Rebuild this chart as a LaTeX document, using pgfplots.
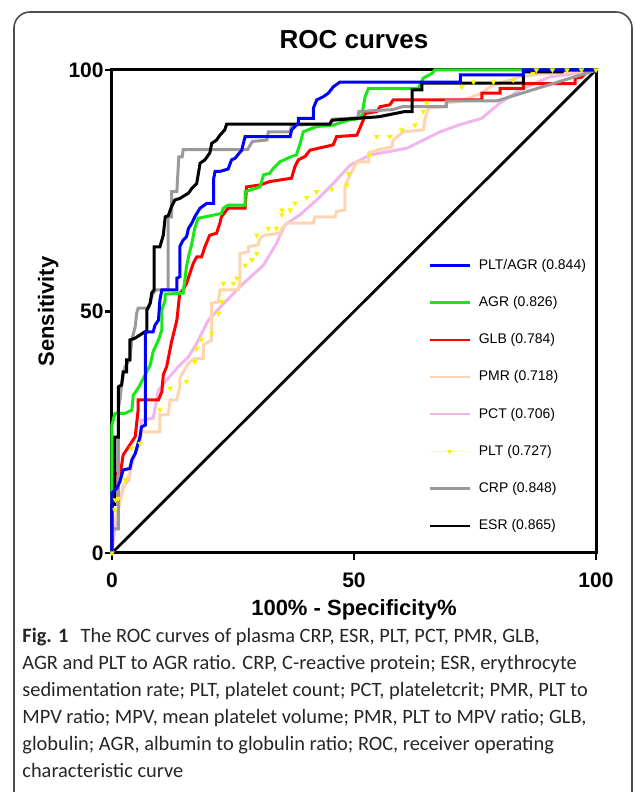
\documentclass[border=0pt]{standalone}
\usepackage{fontspec}
\setmainfont{Liberation Sans}
\newfontfamily\capfont{Carlito}
\usepackage{pgfplots}
\pgfplotsset{compat=1.18}
\definecolor{cgreen}{HTML}{18E818}
\definecolor{cpeach}{HTML}{FDD5B1}
\definecolor{cpink}{HTML}{F3B6EC}
\definecolor{cyell}{HTML}{FFFFA8}
\definecolor{cymark}{HTML}{F5F500}
\definecolor{cgray}{HTML}{9A9A9A}
% pixel position of the reference -> picture coordinates (axis origin at 0,0)
\newcommand{\PX}[2]{({(#1-112)*0.5pt},{(553-#2)*0.5pt})}
\begin{document}
\begin{tikzpicture}
\useasboundingbox \PX{0}{0} rectangle \PX{634}{792};
\begin{axis}[
  scale only axis, width=242pt, height=241.5pt,
  xmin=0, xmax=100, ymin=0, ymax=100,
  xtick={0,50,100}, ytick={0,50,100},
  tick align=outside, xtick pos=bottom, ytick pos=left,
  major tick length=3.5pt,
  axis line style={line width=1.5pt},
  every tick/.style={black, line width=1.2pt},
  tick label style={font=\bfseries\fontsize{10.5}{12}\selectfont},
  xticklabel style={yshift=-3pt},
  yticklabel style={inner sep=0.5pt},
  /pgf/number format/assume math mode=true,
  title={ROC curves},
  title style={font=\bfseries\fontsize{13}{15}\selectfont, at={(axis description cs:0.5,1.039)}, anchor=center},
  xlabel={100\% - Specificity\%},
  xlabel style={font=\bfseries\fontsize{11}{13}\selectfont, at={(axis description cs:0.5,-0.118)}, anchor=center},
  ylabel={Sensitivity},
  ylabel style={font=\bfseries\fontsize{11}{13}\selectfont, at={(axis description cs:-0.132,0.5)}, anchor=center},
  clip=false,
  legend cell align=left,
  legend image code/.code={\draw[mark repeat=2,mark phase=2,#1] plot coordinates {(0pt,0pt)(10pt,0pt)(20pt,0pt)};},
  legend style={at={(axis cs:65.3,61.4)}, anchor=north west, draw=none, fill=none,
    font=\fontsize{7}{8}\selectfont, row sep=10pt, inner sep=0pt,
    nodes={inner sep=1pt, text height=5.2pt, text depth=1.4pt},
    /tikz/every odd column/.append style={column sep=3pt}},
]
\addlegendimage{blue, line width=1.2pt}
\addlegendentry{PLT/AGR (0.844)}
\addlegendimage{cgreen, line width=1.2pt}
\addlegendentry{AGR (0.826)}
\addlegendimage{red, line width=1.2pt}
\addlegendentry{GLB (0.784)}
\addlegendimage{cpeach, line width=1.2pt}
\addlegendentry{PMR (0.718)}
\addlegendimage{cpink, line width=1.2pt}
\addlegendentry{PCT (0.706)}
\addlegendimage{cyell, line width=0.8pt, mark=triangle*, mark size=0.8pt, mark options={fill=cymark, draw=cymark, rotate=180}}
\addlegendentry{PLT (0.727)}
\addlegendimage{cgray, line width=1.2pt}
\addlegendentry{CRP (0.848)}
\addlegendimage{black, line width=1.2pt}
\addlegendentry{ESR (0.865)}

% reference line
\addplot[black, line width=1.4pt, forget plot] coordinates {(0,0)(100,100)};

% PLT
\addplot[cyell, line width=0.7pt, densely dotted, forget plot, mark=triangle*, mark size=0.9pt,
  mark options={solid, fill=cymark, draw=cymark, rotate=180}] coordinates {
(0,0)(0.6,8.9)(0.7,11.0)(1.3,11.3)(2.7,15.1)(3.0,15.1)(4.1,21.7)(5.8,22.7)(9.9,29.6)(12.0,34.1)
(15.4,35.5)(17.1,39.6)(17.5,42.4)(18.5,44.2)(20.6,45.5)(22.0,49.6)(22.7,52.0)(23.0,55.8)(25.1,55.8)
(25.8,56.9)(27.5,59.6)(28.9,60.7)(29.9,62.0)(29.9,65.8)(32.3,67.2)(34.0,67.2)(35.1,70.0)(35.1,71.0)
(36.8,71.0)(37.8,72.4)(40.2,73.6)(42.3,74.8)(45.4,75.3)(48.5,76.2)(48.8,78.6)(53.3,82.4)(54.7,86.2)
(57.4,86.2)(59.9,87.6)(62.6,88.6)(64.3,91.4)(65.0,93.2)(72.3,96.5)(74.7,97.5)(78.8,97.5)(82.9,97.9)
(87.0,99.3)(87.7,100)(91,100)(94,100)(97,100)(100,100)};

% PCT
\addplot[cpink, line width=1.5pt, forget plot] coordinates {
(0,0)(0.3,3)(0.6,5.1)(1.3,8.9)(2.3,13.7)(3.4,15.1)(4.4,19.3)(5.8,24.1)(6.1,27.5)(8.5,27.9)(9.6,33.7)
(11.3,35.8)(13.7,38.6)(15.8,40.6)(17.5,43.4)(19.9,48.2)(22.3,50.8)(26.4,55.1)(31.3,59.6)(34.0,64.1)
(35.7,67.9)(38.8,70.0)(42.3,73.1)(45.7,76.5)(49.2,80.3)(53.3,82.4)(60.9,83.8)(67.8,87.2)(71.6,88.6)
(76.4,90.0)(80.2,93.2)(84.3,95.9)(90.5,98.6)(93.9,99.0)(100,100)};

% PMR
\addplot[cpeach, line width=1.5pt, forget plot] coordinates {
(0,0)(0,5)(1,8)(2.7,14.6)(3.7,16.6)(4.5,20)(5.8,22.7)(6.1,25.1)(9.9,25.1)(9.9,28.6)(11.6,28.6)
(12.0,31.7)(13.4,31.7)(14.0,34.4)(14.0,36.2)(15.8,39.3)(17.1,40.3)(18.9,40.3)(18.9,43.1)(20.6,44.1)
(20.6,51.7)(22.0,52.0)(22.3,54.5)(26.1,54.5)(26.4,55.8)(26.4,62.0)(28.2,62.4)(28.2,63.4)(30.2,63.8)
(30.6,65.2)(31.6,65.8)(34.7,66.2)(35.1,67.2)(36.1,68.3)(41.6,68.3)(41.9,69.6)(46.1,69.6)(46.4,70.7)
(48.1,71.0)(48.1,75.8)(49.2,78.3)(50.6,81.0)(53.0,81.0)(53.0,82.8)(54.7,83.4)(57.8,84.1)(58.1,85.5)
(60.2,87.2)(64.3,87.6)(64.7,90.0)(65.4,92.1)(68.8,92.4)(69.1,93.2)(71.9,93.5)(76.4,95.2)(78.1,96.5)
(80.9,97.5)(84.3,98.6)(90,99.3)(95,99.6)(100,100)};

% GLB
\addplot[red, line width=1.5pt, forget plot] coordinates {
(0,0)(0,12)(0.6,13.7)(0.6,16.5)(1.65,16.5)(2.0,18.2)(2.3,20.3)(3.7,22.4)(4.8,24.1)(5.1,26.9)(5.4,29.6)
(5.4,31.7)(9.6,31.7)(10.3,33.4)(10.6,36.9)(11.3,38.6)(12.3,43.7)(13.4,48.2)(14.0,53.8)(14.7,54.5)
(15.4,55.8)(16.1,57.9)(16.8,60.0)(17.5,61.3)(18.5,61.3)(19.2,63.4)(20.2,65.8)(21.6,66.2)(22.3,68.3)
(22.6,69.6)(24.0,71.4)(27.5,71.4)(27.8,75.8)(30.6,76.2)(32.6,76.9)(37.1,77.6)(37.8,80.0)(38.5,81.4)
(39.9,82.1)(40.9,83.4)(45.7,84.5)(46.4,86.2)(50.6,86.5)(51.9,89.6)(52.3,91.0)(54.7,91.4)(55.4,92.4)
(57.4,92.8)(58.1,93.8)(76.4,93.8)(76.4,95.2)(80.2,95.2)(80.2,96.2)(85.0,96.2)(85.0,97.2)(95.7,97.2)
(95.7,98.3)(97.0,98.5)(98.1,99.6)(100,100)};

% AGR
\addplot[cgreen, line width=1.5pt, forget plot] coordinates {
(0,0)(0,13)(0,26.5)(0.6,28.9)(2.7,28.9)(4.1,29.6)(4.4,32.7)(5.4,34.1)(7.9,38.9)(8.5,41.7)(9.6,44.1)
(10.3,46.2)(10.3,50.3)(11.0,52.4)(11.0,53.6)(14.7,53.8)(15.4,59.3)(15.8,61.3)(16.5,64.1)(17.1,67.2)
(17.8,69.3)(22.6,70.3)(23.0,71.4)(24.0,72.0)(27.5,72.0)(27.5,74.8)(30.6,75.8)(31.3,78.3)(32.6,78.6)
(33.3,79.6)(34.7,81.0)(37.1,82.1)(38.1,82.4)(38.8,84.5)(39.5,87.2)(42.3,88.3)(45.7,88.6)(48.8,89.6)
(51.5,90.0)(52.3,94.5)(53.0,96.2)(63.3,96.2)(64.3,98.3)(66.1,99.3)(66.7,100)(100,100)};

% CRP
\addplot[cgray, line width=1.5pt, forget plot] coordinates {
(0,0)(0,5)(1.3,5)(1.3,30)(1.65,31.7)(2.0,35.1)(2.7,38.6)(3.7,40.0)(4.1,44.1)(4.8,46.9)(5.1,49.6)
(5.4,50.7)(7.5,50.7)(8.5,53.8)(9.2,54.5)(11.6,54.5)(11.6,69.6)(12.3,69.6)(12.3,74.8)(13.4,74.8)
(13.8,82.0)(14.5,82.0)(14.7,83.5)(28.0,83.5)(29.0,85.2)(32.0,85.5)(32.3,87.2)(36.8,87.2)(37.1,88.6)
(45.0,88.8)(45.5,89.8)(50.8,90.1)(51.0,91.4)(58,91.8)(60,92.4)(69.1,92.4)(69.1,93.6)(79.5,93.6)
(99.2,99.7)(100,100)};

% ESR
\addplot[black, line width=1.5pt, forget plot] coordinates {
(0,0)(0,10)(0.6,10)(0.6,24)(1.3,24)(1.3,34.4)(2.0,34.8)(2.3,37.5)(3.0,37.5)(3.0,40.0)(3.7,40.0)
(3.7,44.1)(4.8,44.5)(6.8,45.8)(7.2,45.8)(7.2,50.3)(7.9,51.7)(8.2,53.8)(8.7,54.5)(8.7,63.4)(9.9,63.4)
(10.6,65.8)(11.0,69.6)(11.6,69.8)(12.3,71.7)(13.0,73.1)(14.0,73.4)(15.8,74.5)(16.5,75.5)(17.5,76.5)
(18.2,80.7)(19.2,81.4)(20.2,82.8)(20.6,84.8)(21.6,85.5)(22.3,86.5)(23.3,87.6)(23.7,88.8)(45.0,88.8)
(45.5,89.6)(52,90.1)(55,90.3)(60.5,91.4)(62,91.4)(62,95.9)(64,95.9)(64,97.3)(85,97.3)(85,99.6)
(93,99.6)(93,100)(100,100)};

% PLT/AGR
\addplot[blue, line width=1.5pt, forget plot] coordinates {
(0,0)(0,12.4)(1.0,13.4)(1.65,14.8)(2.3,17.2)(3.7,17.5)(4.1,19.3)(4.8,20.6)(5.4,22.7)(5.8,24.1)
(6.1,26.1)(6.9,26.5)(6.9,45.8)(8.5,45.8)(8.9,47.2)(9.6,48.2)(9.9,52.4)(10.3,54.5)(13.4,54.5)
(13.4,56.9)(14.0,57.2)(14.0,63.4)(14.7,64.8)(15.4,65.5)(15.8,67.2)(16.5,68.3)(17.1,69.6)(18.2,71.4)
(19.6,72.4)(21.0,72.4)(21.0,77.5)(21.3,79.0)(22.3,79.0)(24.0,79.5)(24.7,81.4)(25.4,81.7)(26.8,83.4)
(27.5,86.2)(36.8,86.2)(37.1,87.6)(38.5,89.0)(38.5,90.0)(41.6,90.0)(41.6,92.1)(42.3,93.8)(43.7,94.5)
(44.7,95.2)(45.7,96.5)(47.1,97.5)(72.0,97.5)(72.0,99.0)(85.0,99.0)(85.0,100)(100,100)};
\end{axis}
% figure frame
\draw[line width=0.8pt, black!70, rounded corners=8pt] \PX{14}{800} -- \PX{14}{12} -- \PX{632}{12} -- \PX{632}{800};
% caption
\node[anchor=north west, align=left, inner sep=0pt, text=black!85,
  font=\capfont\fontsize{10.2}{13.5}\selectfont] at \PX{22}{628}
{\textbf{Fig. 1}\hspace{0.6em}The ROC curves of plasma CRP, ESR, PLT, PCT, PMR, GLB,\\
AGR and PLT to AGR ratio. CRP, C-reactive protein; ESR, erythrocyte\\
sedimentation rate; PLT, platelet count; PCT, plateletcrit; PMR, PLT to\\
MPV ratio; MPV, mean platelet volume; PMR, PLT to MPV ratio; GLB,\\
globulin; AGR, albumin to globulin ratio; ROC, receiver operating\\
characteristic curve};
\end{tikzpicture}
\end{document}
